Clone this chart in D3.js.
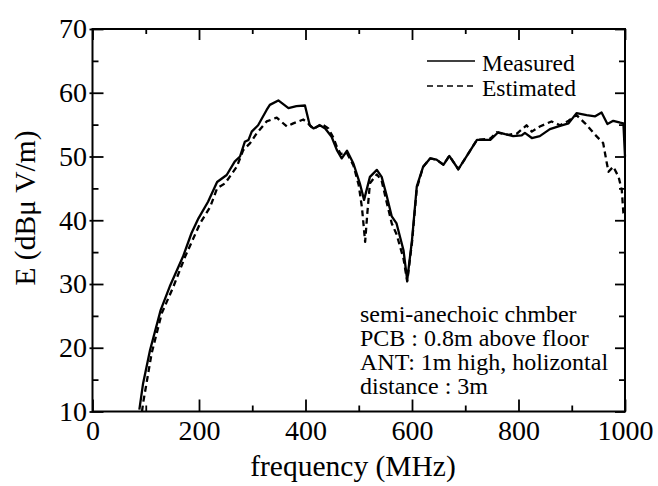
<!DOCTYPE html>
<html>
<head>
<meta charset="utf-8">
<script src="https://cdn.jsdelivr.net/npm/d3@7"></script>
<style>
  html, body { margin: 0; padding: 0; background: #fff; }
  svg { display: block; }
  text { font-family: "Liberation Serif", "Times New Roman", serif; fill: #000; }
</style>
</head>
<body>
<svg id="chart" width="658" height="486"></svg>
<script>
// ---- data ----
const measuredFreq = [88, 95, 108, 128, 145, 170, 186, 199, 217, 234, 252, 267, 277, 286, 293, 299, 311, 327, 333, 349, 368, 383, 399, 408, 415, 427, 437, 449, 459, 468, 478, 490, 502, 510, 521, 534, 543, 552, 562, 571, 584, 591, 600, 609, 621, 634, 646, 659, 670, 687, 706, 722, 747, 762, 775, 790, 806, 812, 825, 840, 859, 878, 894, 909, 928, 944, 956, 967, 978, 991, 997, 1000];
const measuredE    = [10.3, 14.4, 19.6, 25.9, 29.6, 34.3, 38.0, 40.3, 42.9, 46.0, 47.1, 49.2, 50.0, 52.3, 52.6, 53.9, 54.9, 57.3, 58.1, 58.8, 57.6, 57.9, 58.0, 54.9, 54.4, 54.9, 54.4, 53.1, 51.0, 49.7, 50.9, 48.9, 45.8, 43.2, 46.8, 47.9, 46.8, 44.0, 40.6, 39.5, 35.3, 30.6, 36.9, 45.3, 48.4, 49.7, 49.5, 48.7, 50.1, 48.0, 50.5, 52.6, 52.6, 53.8, 53.5, 53.2, 53.3, 53.7, 52.9, 53.2, 54.3, 54.8, 55.2, 56.8, 56.5, 56.3, 56.9, 55.1, 55.6, 55.3, 55.2, 50.0];

const estimatedFreq = [93, 95, 111, 130, 152, 174, 202, 221, 234, 249, 271, 283, 296, 308, 327, 346, 365, 377, 396, 405, 415, 430, 443, 452, 459, 466, 478, 490, 500, 506, 512, 516, 521, 534, 543, 552, 562, 571, 584, 591, 600, 609, 621, 634, 646, 659, 670, 687, 706, 722, 747, 759, 781, 797, 815, 825, 840, 862, 878, 894, 909, 925, 944, 959, 966, 969, 978, 988, 994, 997, 1000];
const estimatedE    = [10.0, 11.3, 19.1, 25.4, 29.6, 34.3, 39.5, 42.1, 45.0, 45.8, 48.4, 51.0, 52.1, 53.6, 55.5, 56.1, 54.7, 55.2, 55.8, 55.2, 54.3, 55.1, 54.4, 53.0, 51.5, 50.4, 50.5, 48.6, 45.5, 42.0, 36.6, 41.0, 45.8, 47.2, 46.2, 43.0, 39.5, 37.8, 34.0, 30.4, 36.5, 45.0, 48.4, 49.7, 49.5, 48.7, 50.1, 48.0, 50.5, 52.6, 52.8, 53.8, 53.4, 53.6, 54.9, 53.9, 54.7, 55.5, 54.9, 55.6, 56.5, 55.2, 53.4, 52.1, 48.9, 47.6, 48.4, 46.8, 44.7, 41.1, 40.5];

const xTickLabels = [0, 200, 400, 600, 800, 1000];
const xMinorTicks = [100, 300, 500, 700, 900];
const yTickLabels = [10, 20, 30, 40, 50, 60, 70];
const yMinorTicks = [15, 25, 35, 45, 55, 65];
const legendLabels = ["Measured", "Estimated"];
const noteLines = ["semi-anechoic chmber", "PCB : 0.8m above floor", "ANT: 1m high, holizontal", "distance : 3m"];
const xTitle = "frequency (MHz)";
const yTitle = "E (dB\u03BC V/m)";

// ---- layout ----
const svg = d3.select("#chart");
const L = 92.5, R = 625, T = 29, B = 411.5;
const x = d3.scaleLinear().domain([0, 1000]).range([L, R]);
const y = d3.scaleLinear().domain([10, 70]).range([B, T]);

function styleAxis(g) {
  g.select(".domain").remove();
  g.selectAll("line").attr("stroke", "#000").attr("stroke-width", 1.8);
}

// bottom major
svg.append("g").attr("transform", `translate(0,${B})`)
  .call(d3.axisBottom(x).tickValues(xTickLabels).tickSizeInner(-12).tickSizeOuter(0).tickPadding(9).tickFormat(d3.format("d")))
  .call(styleAxis)
  .call(g => g.selectAll("text").attr("font-size", 28).attr("font-family", "Liberation Serif"));
// bottom minor
svg.append("g").attr("transform", `translate(0,${B})`)
  .call(d3.axisBottom(x).tickValues(xMinorTicks).tickSizeInner(-6).tickSizeOuter(0).tickFormat(""))
  .call(styleAxis);
// top major/minor
svg.append("g").attr("transform", `translate(0,${T})`)
  .call(d3.axisTop(x).tickValues(xTickLabels).tickSizeInner(-11).tickSizeOuter(0).tickFormat(""))
  .call(styleAxis);
svg.append("g").attr("transform", `translate(0,${T})`)
  .call(d3.axisTop(x).tickValues(xMinorTicks).tickSizeInner(-5).tickSizeOuter(0).tickFormat(""))
  .call(styleAxis);
// left major with labels
svg.append("g").attr("transform", `translate(${L},0)`)
  .call(d3.axisLeft(y).tickValues(yTickLabels).tickSizeInner(3).tickSizeOuter(0).tickPadding(2.5).tickFormat(d3.format("d")))
  .call(styleAxis)
  .call(g => g.selectAll("line").attr("x1", -3).attr("x2", 11))
  .call(g => g.selectAll("text").attr("font-size", 28).attr("font-family", "Liberation Serif"));
svg.append("g").attr("transform", `translate(${L},0)`)
  .call(d3.axisLeft(y).tickValues(yMinorTicks).tickSizeInner(-6).tickSizeOuter(0).tickFormat(""))
  .call(styleAxis);
// right
svg.append("g").attr("transform", `translate(${R},0)`)
  .call(d3.axisRight(y).tickValues(yTickLabels).tickSizeInner(-10).tickSizeOuter(0).tickFormat(""))
  .call(styleAxis);
svg.append("g").attr("transform", `translate(${R},0)`)
  .call(d3.axisRight(y).tickValues(yMinorTicks).tickSizeInner(-6).tickSizeOuter(0).tickFormat(""))
  .call(styleAxis);

// frame
svg.append("rect").attr("x", L).attr("y", T).attr("width", R - L).attr("height", B - T)
  .attr("fill", "none").attr("stroke", "#000").attr("stroke-width", 2);

// curves
const line = d3.line().x(d => x(d[0])).y(d => y(d[1]));
const measured = measuredFreq.map((f, i) => [f, measuredE[i]]);
const estimated = estimatedFreq.map((f, i) => [f, estimatedE[i]]);

svg.append("path").datum(estimated).attr("d", line)
  .attr("fill", "none").attr("stroke", "#000").attr("stroke-width", 2.3)
  .attr("stroke-dasharray", "6,4").attr("stroke-linejoin", "round");
svg.append("path").datum(measured).attr("d", line)
  .attr("fill", "none").attr("stroke", "#000").attr("stroke-width", 2.3)
  .attr("stroke-linejoin", "round");

// legend
const legY = [61, 86];
legendLabels.forEach((lab, i) => {
  svg.append("line").attr("x1", 427).attr("x2", 475).attr("y1", legY[i]).attr("y2", legY[i])
    .attr("stroke", "#000").attr("stroke-width", 1.6)
    .attr("stroke-dasharray", i === 1 ? "6,4" : null);
  svg.append("text").attr("x", 482).attr("y", legY[i] + 9.5)
    .attr("font-size", 23.5).text(lab);
});

// annotation
noteLines.forEach((t, i) => {
  svg.append("text").attr("x", 360).attr("y", 322 + i * 24)
    .attr("font-size", 24).text(t);
});

// axis titles
svg.append("text").attr("x", 353).attr("y", 476).attr("text-anchor", "middle")
  .attr("font-size", 29.5).text(xTitle);
svg.append("text").attr("transform", "translate(35,208) rotate(-90)").attr("text-anchor", "middle")
  .attr("font-size", 29.5).text(yTitle);
</script>
</body>
</html>
